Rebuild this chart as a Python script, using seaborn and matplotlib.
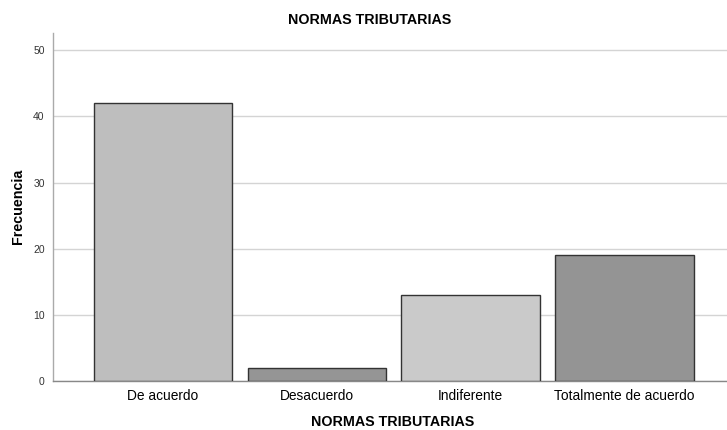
import matplotlib
matplotlib.use("Agg")
import matplotlib.pyplot as plt
import seaborn as sns
import pandas as pd

# valores
categorias = ["De acuerdo", "Desacuerdo", "Indiferente", "Totalmente de acuerdo"]
frecuencias = [42, 2, 13, 19]
colores = ["#bebebe", "#959595", "#cacaca", "#949494"]
yticks = [0, 10, 20, 30, 40, 50]

sns.set_theme(style="white")
plt.rcParams['font.family'] = ['Liberation Sans', 'DejaVu Sans']
plt.rcParams['text.color'] = 'black'
plt.rcParams['axes.labelcolor'] = 'black'
plt.rcParams['xtick.color'] = 'black'
plt.rcParams['ytick.color'] = '#333333'

df = pd.DataFrame({"cat": categorias, "freq": frecuencias})

fig = plt.figure(figsize=(7.27, 4.30), dpi=100)
ax = fig.add_axes([0.073, 0.114, 0.927, 0.809])

sns.barplot(data=df, x="cat", y="freq", hue="cat", palette=colores,
            width=0.9, edgecolor="#333333", linewidth=1.0, legend=False,
            ax=ax, zorder=3)

ax.set_ylim(0, 52.6)
ax.set_xlim(-0.715, 3.667)
ax.set_yticks(yticks)
ax.set_yticklabels([str(v) for v in yticks], fontsize=7.5)
ax.tick_params(axis="x", labelsize=9.9, length=0, pad=6)
ax.tick_params(axis="y", length=0, pad=6)
ax.yaxis.grid(True, color="#d4d4d4", linewidth=1.0, zorder=0)
ax.set_axisbelow(True)

for side in ["top", "right"]:
    ax.spines[side].set_visible(False)
ax.spines["left"].set_color("#aaaaaa")
ax.spines["bottom"].set_color("#888888")
ax.spines["left"].set_linewidth(1.0)
ax.spines["bottom"].set_linewidth(1.0)

# etiquetas colocadas a mano como en el original
ax.set_xlabel("")
ax.set_ylabel("")
fig.text(18 / 727, 1 - 206 / 430, "Frecuencia", ha="center", va="center",
         rotation=90, fontsize=10.3, fontweight="bold")
fig.text(393 / 727, 1 - 422 / 430, "NORMAS TRIBUTARIAS", ha="center", va="center",
         fontsize=10.3, fontweight="bold")
fig.text(370 / 727, 1 - 20 / 430, "NORMAS TRIBUTARIAS", ha="center", va="center",
         fontsize=10.3, fontweight="bold")

fig.savefig("out.png", dpi=100)
